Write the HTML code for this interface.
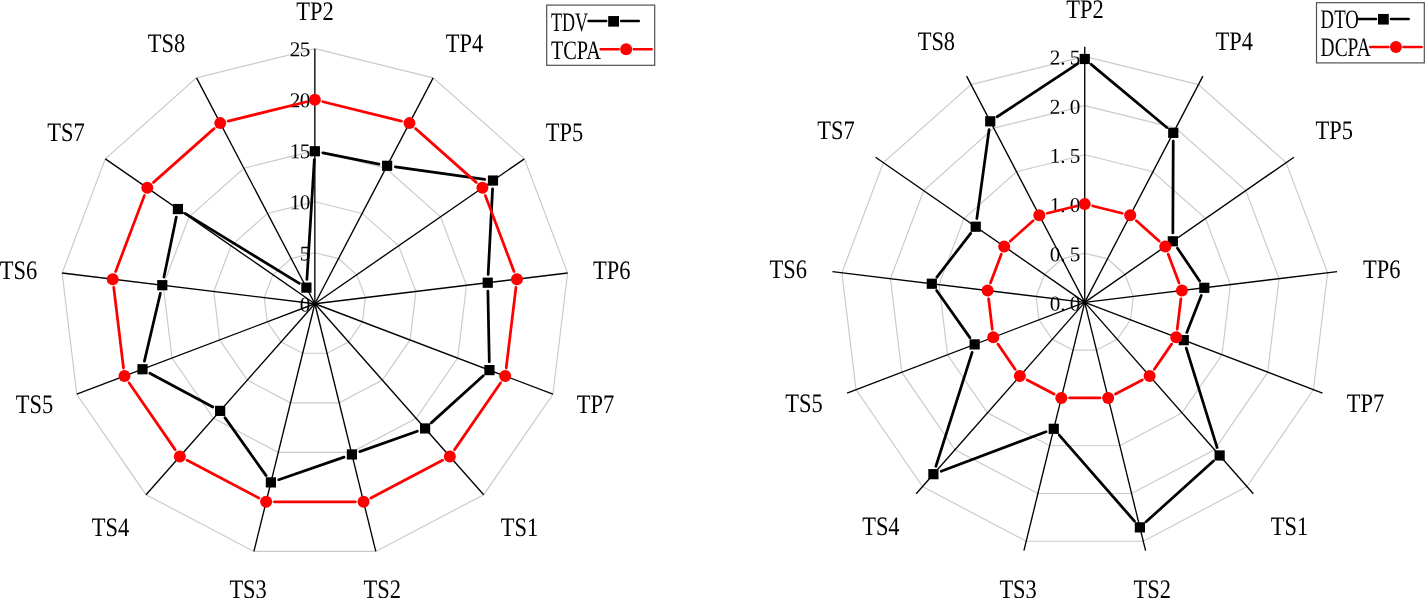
<!DOCTYPE html>
<html><head><meta charset="utf-8"><title>Radar charts</title>
<style>
html,body{margin:0;padding:0;background:#fff;}
svg{display:block;}
text{font-family:"Liberation Serif",serif;fill:#000;}
.lb{font-size:26.7px;}
.tk{font-size:21.2px;}
.lg{font-size:26.6px;}
</style></head><body>
<svg width="1425" height="598" viewBox="0 0 1425 598">
<rect width="1425" height="598" fill="#fff"/>
<polygon points="314.85,252.73 338.51,258.57 356.75,274.77 365.4,297.6 362.46,321.84 348.61,341.94 327.04,353.29 302.66,353.29 281.09,341.94 267.24,321.84 264.3,297.6 272.95,274.77 291.19,258.57" fill="none" stroke="#cacaca" stroke-width="1.15"/>
<polygon points="314.85,201.71 362.18,213.4 398.66,245.78 415.94,291.45 410.07,339.93 382.38,380.13 339.22,402.82 290.48,402.82 247.32,380.13 219.63,339.93 213.76,291.45 231.04,245.78 267.52,213.4" fill="none" stroke="#cacaca" stroke-width="1.15"/>
<polygon points="314.85,150.69 385.84,168.22 440.56,216.8 466.49,285.3 457.68,358.03 416.14,418.32 351.41,452.36 278.29,452.36 213.56,418.32 172.02,358.03 163.21,285.3 189.14,216.8 243.86,168.22" fill="none" stroke="#cacaca" stroke-width="1.15"/>
<polygon points="314.85,99.67 409.5,123.05 482.47,187.82 517.04,279.15 505.29,376.12 449.91,456.51 363.59,501.9 266.11,501.9 179.79,456.51 124.41,376.12 112.66,279.15 147.23,187.82 220.2,123.05" fill="none" stroke="#cacaca" stroke-width="1.15"/>
<polygon points="314.85,48.65 433.16,77.87 524.37,158.84 567.58,273 552.9,394.21 483.67,494.7 375.78,551.44 253.92,551.44 146.03,494.7 76.8,394.21 62.12,273 105.33,158.84 196.54,77.87" fill="none" stroke="#cacaca" stroke-width="1.15"/>
<line x1="314.85" y1="303.75" x2="314.85" y2="48.65" stroke="#000" stroke-width="1.35"/>
<line x1="314.85" y1="303.75" x2="433.16" y2="77.87" stroke="#000" stroke-width="1.35"/>
<line x1="314.85" y1="303.75" x2="524.37" y2="158.84" stroke="#000" stroke-width="1.35"/>
<line x1="314.85" y1="303.75" x2="567.58" y2="273" stroke="#000" stroke-width="1.35"/>
<line x1="314.85" y1="303.75" x2="552.9" y2="394.21" stroke="#000" stroke-width="1.35"/>
<line x1="314.85" y1="303.75" x2="483.67" y2="494.7" stroke="#000" stroke-width="1.35"/>
<line x1="314.85" y1="303.75" x2="375.78" y2="551.44" stroke="#000" stroke-width="1.35"/>
<line x1="314.85" y1="303.75" x2="253.92" y2="551.44" stroke="#000" stroke-width="1.35"/>
<line x1="314.85" y1="303.75" x2="146.03" y2="494.7" stroke="#000" stroke-width="1.35"/>
<line x1="314.85" y1="303.75" x2="76.8" y2="394.21" stroke="#000" stroke-width="1.35"/>
<line x1="314.85" y1="303.75" x2="62.12" y2="273" stroke="#000" stroke-width="1.35"/>
<line x1="314.85" y1="303.75" x2="105.33" y2="158.84" stroke="#000" stroke-width="1.35"/>
<line x1="314.85" y1="303.75" x2="196.54" y2="77.87" stroke="#000" stroke-width="1.35"/>
<text class="tk" x="299.7" y="311.4" transform="rotate(0.03 299.7 311.4)">0</text>
<text class="tk" x="299.7" y="260.38" transform="rotate(0.03 299.7 260.38)">5</text>
<text class="tk" x="289.7 299.7" y="209.36" transform="rotate(0.03 289.7 209.36)">10</text>
<text class="tk" x="289.7 299.7" y="158.34" transform="rotate(0.03 289.7 158.34)">15</text>
<text class="tk" x="289.7 299.7" y="107.32" transform="rotate(0.03 289.7 107.32)">20</text>
<text class="tk" x="289.7 299.7" y="56.3" transform="rotate(0.03 289.7 56.3)">25</text>
<text class="lb" x="296.3" y="19.65" textLength="37.4" lengthAdjust="spacingAndGlyphs" transform="rotate(0.03 296.3 19.65)">TP2</text>
<text class="lb" x="445.8" y="51.68" textLength="37.4" lengthAdjust="spacingAndGlyphs" transform="rotate(0.03 445.8 51.68)">TP4</text>
<text class="lb" x="545.8" y="140.73" textLength="37.4" lengthAdjust="spacingAndGlyphs" transform="rotate(0.03 545.8 140.73)">TP5</text>
<text class="lb" x="593.1" y="279.3" textLength="37.4" lengthAdjust="spacingAndGlyphs" transform="rotate(0.03 593.1 279.3)">TP6</text>
<text class="lb" x="576.8" y="412.65" textLength="37.4" lengthAdjust="spacingAndGlyphs" transform="rotate(0.03 576.8 412.65)">TP7</text>
<text class="lb" x="500.8" y="535.65" textLength="37.4" lengthAdjust="spacingAndGlyphs" transform="rotate(0.03 500.8 535.65)">TS1</text>
<text class="lb" x="363.6" y="597.95" textLength="37.4" lengthAdjust="spacingAndGlyphs" transform="rotate(0.03 363.6 597.95)">TS2</text>
<text class="lb" x="229.4" y="597.95" textLength="37.4" lengthAdjust="spacingAndGlyphs" transform="rotate(0.03 229.4 597.95)">TS3</text>
<text class="lb" x="91.8" y="535.65" textLength="37.4" lengthAdjust="spacingAndGlyphs" transform="rotate(0.03 91.8 535.65)">TS4</text>
<text class="lb" x="15.8" y="412.65" textLength="37.4" lengthAdjust="spacingAndGlyphs" transform="rotate(0.03 15.8 412.65)">TS5</text>
<text class="lb" x="-0.2" y="279.4" textLength="37.4" lengthAdjust="spacingAndGlyphs" transform="rotate(0.03 -0.2 279.4)">TS6</text>
<text class="lb" x="47.3" y="140.75" textLength="37.4" lengthAdjust="spacingAndGlyphs" transform="rotate(0.03 47.3 140.75)">TS7</text>
<text class="lb" x="147.8" y="51.73" textLength="37.4" lengthAdjust="spacingAndGlyphs" transform="rotate(0.03 147.8 51.73)">TS8</text>
<path d="M322.99 152.89L378.97 164.16M395.33 166.94L484.78 179.39M492.57 188.83L488.16 274.43M487.89 291.01L489.28 361.8M483.29 375.67L431.25 422.88M417.28 431.23L359.74 451.66M344.07 457.15L278.75 479.7M266.1 475.63L224.95 417.63M212.83 406.94L149.81 373.17M144.4 361.17L160.38 293.27M163.95 277.06L176.26 217.18M185.01 213.38L299.33 283.3M306.92 279.35L314.34 159.53" fill="none" stroke="#000" stroke-width="2.75" stroke-linecap="round"/>
<rect x="309.75" y="146.15" width="10.2" height="10.2" fill="#000"/>
<rect x="382.01" y="160.7" width="10.2" height="10.2" fill="#000"/>
<rect x="487.9" y="175.44" width="10.2" height="10.2" fill="#000"/>
<rect x="482.63" y="277.62" width="10.2" height="10.2" fill="#000"/>
<rect x="484.34" y="365" width="10.2" height="10.2" fill="#000"/>
<rect x="420.01" y="423.35" width="10.2" height="10.2" fill="#000"/>
<rect x="346.82" y="449.34" width="10.2" height="10.2" fill="#000"/>
<rect x="265.8" y="477.3" width="10.2" height="10.2" fill="#000"/>
<rect x="215.05" y="405.76" width="10.2" height="10.2" fill="#000"/>
<rect x="137.4" y="364.15" width="10.2" height="10.2" fill="#000"/>
<rect x="157.18" y="280.09" width="10.2" height="10.2" fill="#000"/>
<rect x="172.83" y="203.95" width="10.2" height="10.2" fill="#000"/>
<rect x="301.31" y="282.53" width="10.2" height="10.2" fill="#000"/>
<path d="M322.91 101.74L401.41 121.13M415.67 128.63L476.2 182.35M485.34 195.63L514.02 271.4M515.96 287.4L506.21 367.85M500.5 382.92L454.57 449.61M442.51 460.31L370.92 497.96M355.27 501.82L274.43 501.82M258.78 497.96L187.19 460.31M175.13 449.61L129.2 382.92M123.49 367.85L113.74 287.4M115.68 271.4L144.36 195.63M153.5 182.35L214.03 128.63M228.29 121.13L306.79 101.74" fill="none" stroke="#f00" stroke-width="2.75" stroke-linecap="round"/>
<circle cx="314.85" cy="99.75" r="6" fill="#f00"/>
<circle cx="409.46" cy="123.12" r="6" fill="#f00"/>
<circle cx="482.4" cy="187.86" r="6" fill="#f00"/>
<circle cx="516.96" cy="279.16" r="6" fill="#f00"/>
<circle cx="505.21" cy="376.09" r="6" fill="#f00"/>
<circle cx="449.86" cy="456.45" r="6" fill="#f00"/>
<circle cx="363.57" cy="501.82" r="6" fill="#f00"/>
<circle cx="266.13" cy="501.82" r="6" fill="#f00"/>
<circle cx="179.84" cy="456.45" r="6" fill="#f00"/>
<circle cx="124.49" cy="376.09" r="6" fill="#f00"/>
<circle cx="112.74" cy="279.16" r="6" fill="#f00"/>
<circle cx="147.3" cy="187.86" r="6" fill="#f00"/>
<circle cx="220.24" cy="123.12" r="6" fill="#f00"/>
<polygon points="1084.75,253.2 1107.49,258.84 1125.02,274.45 1133.32,296.47 1130.5,319.85 1117.2,339.23 1096.46,350.17 1073.04,350.17 1052.3,339.23 1039,319.85 1036.18,296.47 1044.48,274.45 1062.01,258.84" fill="none" stroke="#cacaca" stroke-width="1.15"/>
<polygon points="1084.75,204 1130.23,215.27 1165.29,246.5 1181.9,290.54 1176.25,337.29 1149.64,376.05 1108.17,397.94 1061.33,397.94 1019.86,376.05 993.25,337.29 987.6,290.54 1004.21,246.5 1039.27,215.27" fill="none" stroke="#cacaca" stroke-width="1.15"/>
<polygon points="1084.75,154.8 1152.97,171.71 1205.55,218.55 1230.47,284.61 1222,354.74 1182.09,412.88 1119.88,445.71 1049.62,445.71 987.41,412.88 947.5,354.74 939.03,284.61 963.95,218.55 1016.53,171.71" fill="none" stroke="#cacaca" stroke-width="1.15"/>
<polygon points="1084.75,105.6 1175.7,128.14 1245.82,190.6 1279.04,278.68 1267.75,372.19 1214.53,449.71 1131.59,493.48 1037.91,493.48 954.97,449.71 901.75,372.19 890.46,278.68 923.68,190.6 993.8,128.14" fill="none" stroke="#cacaca" stroke-width="1.15"/>
<polygon points="1084.75,56.4 1198.44,84.58 1286.09,162.66 1327.61,272.75 1313.5,389.63 1246.98,486.53 1143.3,541.25 1026.2,541.25 922.52,486.53 856,389.63 841.89,272.75 883.41,162.66 971.06,84.58" fill="none" stroke="#cacaca" stroke-width="1.15"/>
<line x1="1084.75" y1="302.4" x2="1084.75" y2="46.8" stroke="#000" stroke-width="1.35"/>
<line x1="1084.75" y1="302.4" x2="1202.88" y2="76.08" stroke="#000" stroke-width="1.35"/>
<line x1="1084.75" y1="302.4" x2="1293.95" y2="157.2" stroke="#000" stroke-width="1.35"/>
<line x1="1084.75" y1="302.4" x2="1337.09" y2="271.59" stroke="#000" stroke-width="1.35"/>
<line x1="1084.75" y1="302.4" x2="1322.43" y2="393.04" stroke="#000" stroke-width="1.35"/>
<line x1="1084.75" y1="302.4" x2="1253.31" y2="493.72" stroke="#000" stroke-width="1.35"/>
<line x1="1084.75" y1="302.4" x2="1145.58" y2="550.57" stroke="#000" stroke-width="1.35"/>
<line x1="1084.75" y1="302.4" x2="1023.92" y2="550.57" stroke="#000" stroke-width="1.35"/>
<line x1="1084.75" y1="302.4" x2="916.19" y2="493.72" stroke="#000" stroke-width="1.35"/>
<line x1="1084.75" y1="302.4" x2="847.07" y2="393.04" stroke="#000" stroke-width="1.35"/>
<line x1="1084.75" y1="302.4" x2="832.41" y2="271.59" stroke="#000" stroke-width="1.35"/>
<line x1="1084.75" y1="302.4" x2="875.55" y2="157.2" stroke="#000" stroke-width="1.35"/>
<line x1="1084.75" y1="302.4" x2="966.62" y2="76.08" stroke="#000" stroke-width="1.35"/>
<text class="tk" x="1049.7 1060.35 1069.7" y="310.45" transform="rotate(0.03 1049.7 310.45)">0.0</text>
<text class="tk" x="1049.7 1060.35 1069.7" y="261.25" transform="rotate(0.03 1049.7 261.25)">0.5</text>
<text class="tk" x="1049.7 1060.35 1069.7" y="212.05" transform="rotate(0.03 1049.7 212.05)">1.0</text>
<text class="tk" x="1049.7 1060.35 1069.7" y="162.85" transform="rotate(0.03 1049.7 162.85)">1.5</text>
<text class="tk" x="1049.7 1060.35 1069.7" y="113.65" transform="rotate(0.03 1049.7 113.65)">2.0</text>
<text class="tk" x="1049.7 1060.35 1069.7" y="64.45" transform="rotate(0.03 1049.7 64.45)">2.5</text>
<text class="lb" x="1066.3" y="17.55" textLength="37.4" lengthAdjust="spacingAndGlyphs" transform="rotate(0.03 1066.3 17.55)">TP2</text>
<text class="lb" x="1215.5" y="49.73" textLength="37.4" lengthAdjust="spacingAndGlyphs" transform="rotate(0.03 1215.5 49.73)">TP4</text>
<text class="lb" x="1315.6" y="138.73" textLength="37.4" lengthAdjust="spacingAndGlyphs" transform="rotate(0.03 1315.6 138.73)">TP5</text>
<text class="lb" x="1363" y="277.65" textLength="37.4" lengthAdjust="spacingAndGlyphs" transform="rotate(0.03 1363 277.65)">TP6</text>
<text class="lb" x="1346.8" y="411.65" textLength="37.4" lengthAdjust="spacingAndGlyphs" transform="rotate(0.03 1346.8 411.65)">TP7</text>
<text class="lb" x="1270.8" y="535.3" textLength="37.4" lengthAdjust="spacingAndGlyphs" transform="rotate(0.03 1270.8 535.3)">TS1</text>
<text class="lb" x="1133.6" y="597.95" textLength="37.4" lengthAdjust="spacingAndGlyphs" transform="rotate(0.03 1133.6 597.95)">TS2</text>
<text class="lb" x="999.4" y="597.95" textLength="37.4" lengthAdjust="spacingAndGlyphs" transform="rotate(0.03 999.4 597.95)">TS3</text>
<text class="lb" x="862.2" y="535.15" textLength="37.4" lengthAdjust="spacingAndGlyphs" transform="rotate(0.03 862.2 535.15)">TS4</text>
<text class="lb" x="785.3" y="411.65" textLength="37.4" lengthAdjust="spacingAndGlyphs" transform="rotate(0.03 785.3 411.65)">TS5</text>
<text class="lb" x="769.6" y="277.65" textLength="37.4" lengthAdjust="spacingAndGlyphs" transform="rotate(0.03 769.6 277.65)">TS6</text>
<text class="lb" x="817.3" y="138.75" textLength="37.4" lengthAdjust="spacingAndGlyphs" transform="rotate(0.03 817.3 138.75)">TS7</text>
<text class="lb" x="917.7" y="49.75" textLength="37.4" lengthAdjust="spacingAndGlyphs" transform="rotate(0.03 917.7 49.75)">TS8</text>
<path d="M1091.12 64.32L1166.88 127.52M1173.22 141.14L1172.85 232.98M1177.47 248.15L1199.65 280.93M1201.28 295.53L1186.81 332.44M1186.24 348.09L1217.15 447.54M1213.45 461.03L1146.06 521.81M1134.43 521.12L1059.22 435.07M1046 431.74L941.17 471.26M935.91 466.27L972.14 352.3M969.87 337.6L936.61 290.51M936.89 277.15L970.67 233.31M976.86 218.51L989.11 129.55M997.17 116.76L1077.82 63.57" fill="none" stroke="#000" stroke-width="2.75" stroke-linecap="round"/>
<rect x="1079.65" y="53.9" width="10.2" height="10.2" fill="#000"/>
<rect x="1168.16" y="127.74" width="10.2" height="10.2" fill="#000"/>
<rect x="1167.72" y="236.18" width="10.2" height="10.2" fill="#000"/>
<rect x="1199.21" y="282.7" width="10.2" height="10.2" fill="#000"/>
<rect x="1178.68" y="335.07" width="10.2" height="10.2" fill="#000"/>
<rect x="1214.51" y="450.37" width="10.2" height="10.2" fill="#000"/>
<rect x="1134.79" y="522.27" width="10.2" height="10.2" fill="#000"/>
<rect x="1048.66" y="423.72" width="10.2" height="10.2" fill="#000"/>
<rect x="928.3" y="469.08" width="10.2" height="10.2" fill="#000"/>
<rect x="969.55" y="339.29" width="10.2" height="10.2" fill="#000"/>
<rect x="926.73" y="278.63" width="10.2" height="10.2" fill="#000"/>
<rect x="970.63" y="221.63" width="10.2" height="10.2" fill="#000"/>
<rect x="985.14" y="116.22" width="10.2" height="10.2" fill="#000"/>
<path d="M1092.81 206L1122.17 213.27M1136.42 220.79L1159.09 240.98M1168.22 254.27L1178.97 282.77M1180.9 298.78L1177.24 329.05M1171.55 344.14L1154.34 369.21M1142.3 379.93L1115.51 394.07M1099.87 397.94L1069.63 397.94M1053.99 394.07L1027.2 379.93M1015.16 369.21L997.95 344.14M992.26 329.05L988.6 298.78M990.53 282.77L1001.28 254.27M1010.41 240.98L1033.08 220.79M1047.33 213.27L1076.69 206" fill="none" stroke="#f00" stroke-width="2.75" stroke-linecap="round"/>
<circle cx="1084.75" cy="204" r="6" fill="#f00"/>
<circle cx="1130.23" cy="215.27" r="6" fill="#f00"/>
<circle cx="1165.29" cy="246.5" r="6" fill="#f00"/>
<circle cx="1181.9" cy="290.54" r="6" fill="#f00"/>
<circle cx="1176.25" cy="337.29" r="6" fill="#f00"/>
<circle cx="1149.64" cy="376.05" r="6" fill="#f00"/>
<circle cx="1108.17" cy="397.94" r="6" fill="#f00"/>
<circle cx="1061.33" cy="397.94" r="6" fill="#f00"/>
<circle cx="1019.86" cy="376.05" r="6" fill="#f00"/>
<circle cx="993.25" cy="337.29" r="6" fill="#f00"/>
<circle cx="987.6" cy="290.54" r="6" fill="#f00"/>
<circle cx="1004.21" cy="246.5" r="6" fill="#f00"/>
<circle cx="1039.27" cy="215.27" r="6" fill="#f00"/>
<rect x="546.7" y="5.1" width="108" height="60.2" fill="#fff" stroke="#505050" stroke-width="1.2"/>
<text class="lg" x="550.9" y="30.75" textLength="37.2" lengthAdjust="spacingAndGlyphs" transform="rotate(0.03 550.9 30.75)">TDV</text>
<path d="M588.6 21.1L606.2 21.1M621.2 21.1L638.8 21.1" stroke="#000" stroke-width="2.5" stroke-linecap="round" fill="none"/>
<rect x="608.2" y="16.05" width="10.8" height="10.6" fill="#000"/>
<text class="lg" x="550.9" y="58.55" textLength="50.1" lengthAdjust="spacingAndGlyphs" transform="rotate(0.03 550.9 58.55)">TCPA</text>
<path d="M600.6 49.3L618.65 49.3M633.65 49.3L651.7 49.3" stroke="#f00" stroke-width="2.5" stroke-linecap="round" fill="none"/>
<circle cx="626.15" cy="49.3" r="6" fill="#f00"/>
<rect x="1316.5" y="2.7" width="107.8" height="60.2" fill="#fff" stroke="#505050" stroke-width="1.2"/>
<text class="lg" x="1320.6" y="28.27" textLength="38.2" lengthAdjust="spacingAndGlyphs" transform="rotate(0.03 1320.6 28.27)">DTO</text>
<path d="M1358.3 19L1376 19M1391 19L1408.7 19" stroke="#000" stroke-width="2.5" stroke-linecap="round" fill="none"/>
<rect x="1378" y="13.95" width="10.8" height="10.6" fill="#000"/>
<text class="lg" x="1320.6" y="56.26" textLength="50.1" lengthAdjust="spacingAndGlyphs" transform="rotate(0.03 1320.6 56.26)">DCPA</text>
<path d="M1370.3 47.1L1388.45 47.1M1403.45 47.1L1421.6 47.1" stroke="#f00" stroke-width="2.5" stroke-linecap="round" fill="none"/>
<circle cx="1395.95" cy="47.1" r="6" fill="#f00"/>
</svg>
</body></html>
